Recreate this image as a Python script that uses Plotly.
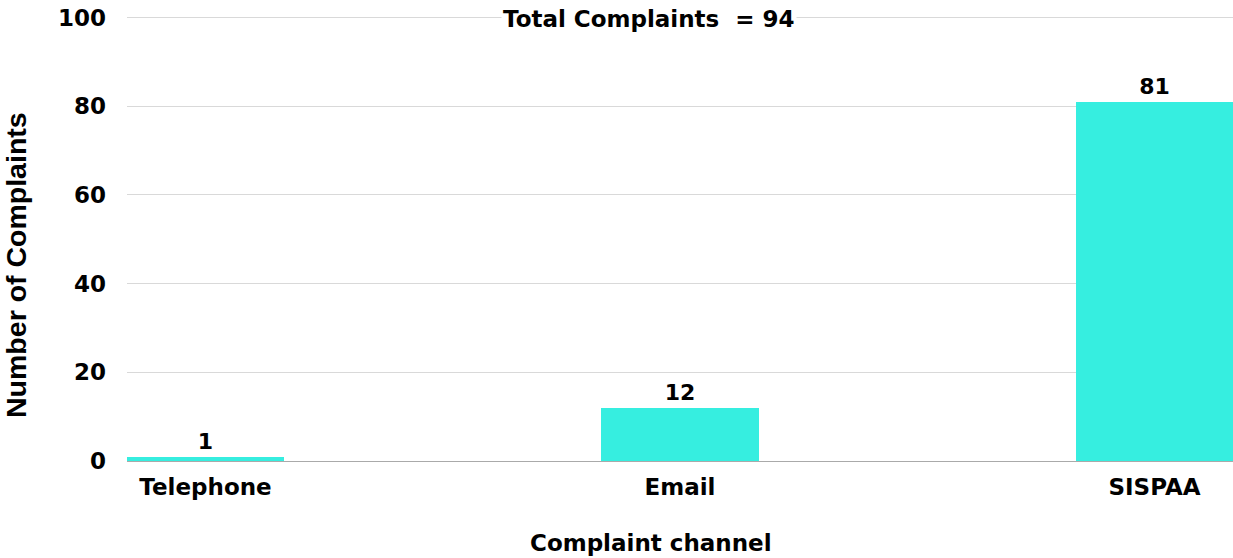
import plotly.graph_objects as go

categories = ["Telephone", "Email", "SISPAA"]
values = [1, 12, 81]
y_ticks = [0, 20, 40, 60, 80, 100]
title_text = "Total Complaints  = 94"
x_title = "Complaint channel"
y_title = "Number of Complaints"

FONT = "DejaVu Sans"
bw = 0.331

fig = go.Figure(go.Bar(
    x=categories, y=values, width=bw,
    marker=dict(color="#36EEE0", line=dict(width=0)),
    text=[str(v) for v in values], textposition="outside",
    textfont=dict(family=FONT, size=22, color="#000000", weight=700),
    cliponaxis=False,
))

fig.update_layout(
    width=1233, height=558,
    margin=dict(l=127, r=0, t=13, b=97),
    plot_bgcolor="white", paper_bgcolor="white",
    showlegend=False,
    bargap=0,
    xaxis=dict(
        range=[-bw / 2, 2 + bw / 2],
        showgrid=False, zeroline=False, showline=False,
        ticks="", ticklabelstandoff=10,
        tickfont=dict(family=FONT, size=23, color="#000000", weight=700),
    ),
    yaxis=dict(
        range=[0, 101], tickvals=y_ticks,
        showgrid=True, gridcolor="#D9D9D9", gridwidth=1,
        zeroline=True, zerolinecolor="#AAAAAA", zerolinewidth=1,
        ticks="", ticklabelstandoff=20, ticklabeloverflow="allow",
        tickfont=dict(family=FONT, size=23, color="#000000", weight=700),
    ),
    annotations=[
        dict(
            text=title_text, x=0.472, xref="paper", y=100, yref="y",
            xanchor="center", yanchor="middle", yshift=-2, showarrow=False,
            font=dict(family=FONT, size=23, color="#000000", weight=700),
            bgcolor="white",
        ),
        dict(
            text=x_title, x=0.474, xref="paper", y=-0.183, yref="paper",
            xanchor="center", yanchor="middle", showarrow=False,
            font=dict(family=FONT, size=23, color="#000000", weight=700),
        ),
        dict(
            text=y_title, x=-0.1004, xref="paper", y=0.4375, yref="paper",
            xanchor="center", yanchor="middle", textangle=-90, showarrow=False,
            font=dict(family="Liberation Sans", size=28.5, color="#000000", weight=700),
        ),
    ],
)

fig.write_html("out.html", config={"displayModeBar": False},
               post_script="document.body.style.margin='0';")
